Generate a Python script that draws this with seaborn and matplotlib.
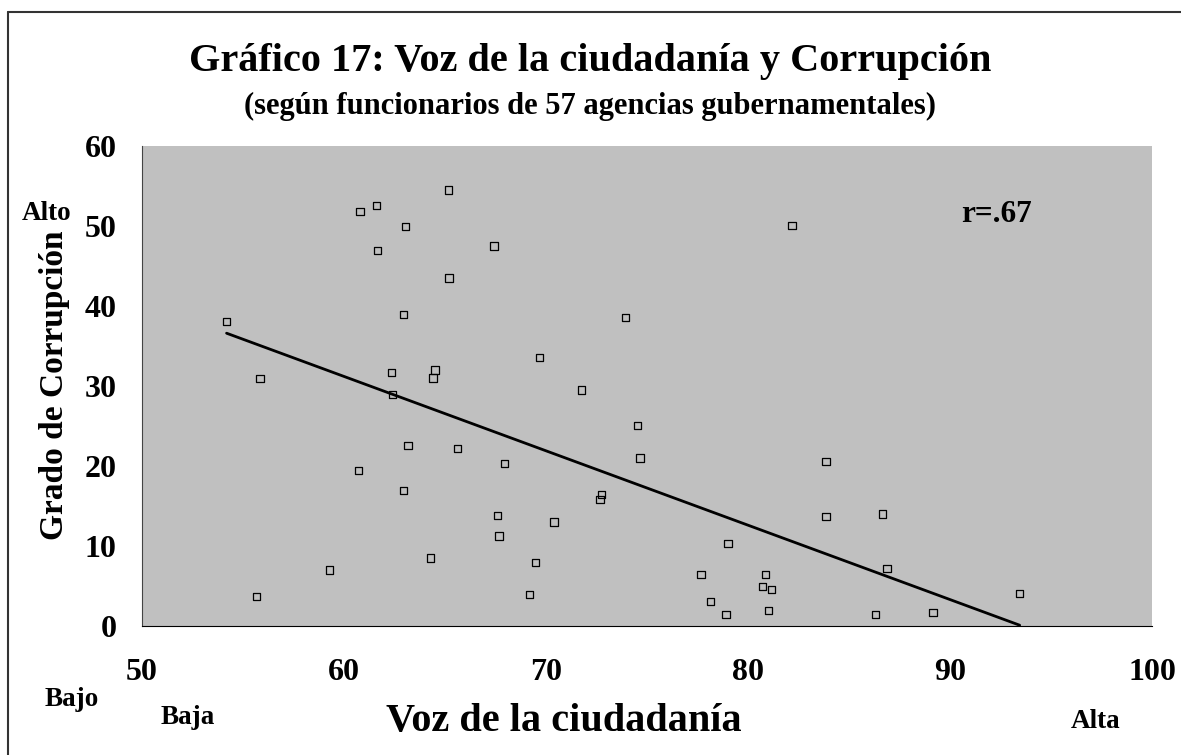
# Gráfico 17: Voz de la ciudadanía y Corrupción
import numpy as np
import pandas as pd
import matplotlib
matplotlib.use('Agg')
import matplotlib.pyplot as plt
import seaborn as sns

# valores
voz = [54.21, 55.85, 60.80, 61.61, 65.17, 63.07, 61.66, 65.21, 62.95, 62.37,
       64.52, 64.42, 62.42, 63.18, 65.64, 60.74, 62.95, 64.28, 59.28, 55.67,
       82.18, 67.44, 73.95, 69.70, 71.76, 74.55, 74.66, 67.96, 72.75, 72.68,
       67.62, 70.40, 67.68, 69.48, 69.18, 79.02, 77.68, 80.88, 80.71, 81.16,
       78.16, 78.92, 81.01, 83.87, 83.87, 86.65, 86.89, 86.31, 89.16, 93.45]
corrupcion = [38.1, 30.9, 51.8, 52.6, 54.5, 49.9, 46.9, 43.5, 38.9, 31.7,
              32.0, 31.0, 28.9, 22.6, 22.2, 19.4, 16.9, 8.5, 7.0, 3.7,
              50.1, 47.5, 38.6, 33.6, 29.5, 25.1, 21.0, 20.3, 16.4, 15.8,
              13.8, 13.0, 11.25, 7.9, 3.96, 10.3, 6.4, 6.4, 4.9, 4.6,
              3.1, 1.4, 1.9, 20.6, 13.7, 14.0, 7.2, 1.4, 1.7, 4.1]

# línea de tendencia (extremos)
trend_x = [54.2, 93.45]
trend_y = [36.6, 0.1]

x_ticks = [50, 60, 70, 80, 90, 100]
y_ticks = [0, 10, 20, 30, 40, 50, 60]

df = pd.DataFrame({'voz': voz, 'corrupcion': corrupcion})
trend = pd.DataFrame({'x': trend_x, 'y': trend_y})

sns.set_style('white')
plt.rcParams['font.family'] = ['Liberation Serif', 'DejaVu Serif']
plt.rcParams['font.weight'] = 'bold'
plt.rcParams['text.color'] = 'black'
plt.rcParams['xtick.color'] = 'black'
plt.rcParams['ytick.color'] = 'black'
plt.rcParams['axes.labelcolor'] = 'black'

fig = plt.figure(figsize=(11.81, 7.55), dpi=100)
ax = fig.add_axes([141.7 / 1181, 1 - 626 / 755, (1152 - 141.7) / 1181, 480 / 755])
ax.set_facecolor('#C0C0C0')

sns.lineplot(data=trend, x='x', y='y', color='black', linewidth=2, ax=ax)
sns.scatterplot(data=df, x='voz', y='corrupcion', marker='s', s=28,
                facecolor='none', edgecolor='black', linewidth=0.9, ax=ax)

ax.set_xlim(50, 100)
ax.set_ylim(0, 60)
ax.set_xticks(x_ticks)
ax.set_yticks(y_ticks)
ax.tick_params(axis='x', direction='out', length=7, width=1, color='#555555',
               pad=16, labelsize=23)
ax.tick_params(axis='y', direction='out', length=7, width=1, color='black',
               pad=11, labelsize=23)
for lab in ax.get_xticklabels() + ax.get_yticklabels():
    lab.set_fontweight('bold')
ax.set_xlabel('')
ax.set_ylabel('')
sns.despine(ax=ax)
ax.spines['left'].set_color('#444444')
ax.spines['bottom'].set_color('black')

ax.text(0.846, 0.857, 'r=.67', transform=ax.transAxes, ha='center', va='center',
        fontsize=22.5, fontweight='bold')

# títulos y etiquetas
fig.text(590 / 1181, 1 - 62 / 755, 'Gráfico 17: Voz de la ciudadanía y Corrupción',
         ha='center', va='center', fontsize=29, fontweight='bold')
fig.text(590 / 1181, 1 - 106 / 755, '(según funcionarios de 57 agencias gubernamentales)',
         ha='center', va='center', fontsize=22, fontweight='bold')
fig.text(564 / 1181, 1 - 722 / 755, 'Voz de la ciudadanía',
         ha='center', va='center', fontsize=29, fontweight='bold')
fig.text(55 / 1181, 1 - 385 / 755, 'Grado de Corrupción', rotation=90,
         ha='center', va='center', fontsize=24, fontweight='bold')
fig.text(47 / 1181, 1 - 214 / 755, 'Alto', ha='center', va='center',
         fontsize=19.5, fontweight='bold')
fig.text(72 / 1181, 1 - 699 / 755, 'Bajo', ha='center', va='center',
         fontsize=19.5, fontweight='bold')
fig.text(188 / 1181, 1 - 718 / 755, 'Baja', ha='center', va='center',
         fontsize=19.5, fontweight='bold')
fig.text(1096 / 1181, 1 - 721 / 755, 'Alta', ha='center', va='center',
         fontsize=19.5, fontweight='bold')

# marco del gráfico
fig.add_artist(plt.Line2D([8 / 1181, 8 / 1181], [0, 1 - 12 / 755],
                          transform=fig.transFigure, color='#333333', linewidth=1.5))
fig.add_artist(plt.Line2D([8 / 1181, 1], [1 - 12 / 755, 1 - 12 / 755],
                          transform=fig.transFigure, color='#333333', linewidth=1.5))

fig.savefig('out.png', dpi=100, facecolor='white')
